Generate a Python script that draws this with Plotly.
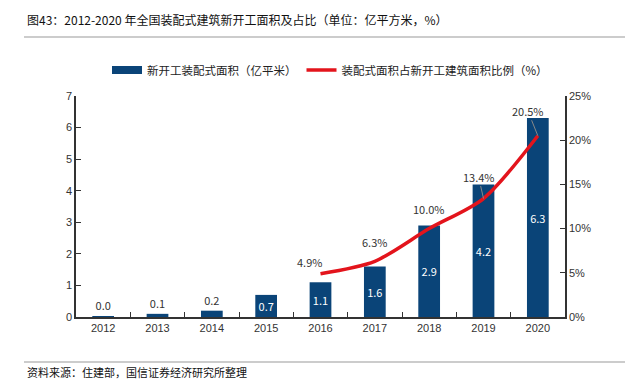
import plotly.graph_objects as go

years = ["2012", "2013", "2014", "2015", "2016", "2017", "2018", "2019", "2020"]
area = [0.02, 0.1, 0.2, 0.7, 1.1, 1.6, 2.9, 4.2, 6.3]
area_labels = ["0.0", "0.1", "0.2", "0.7", "1.1", "1.6", "2.9", "4.2", "6.3"]
ratio_years = ["2016", "2017", "2018", "2019", "2020"]
ratio = [4.9, 6.3, 10.0, 13.4, 20.5]
ratio_labels = ["4.9%", "6.3%", "10.0%", "13.4%", "20.5%"]
left_ticks = [0, 1, 2, 3, 4, 5, 6, 7]
right_ticks = [0, 5, 10, 15, 20, 25]
right_tick_labels = ["0%", "5%", "10%", "15%", "20%", "25%"]

FONT = "Noto Sans CJK SC"
BLUE = "#0A4478"
RED = "#E3141C"

fig = go.Figure()
fig.add_trace(go.Bar(
    x=years, y=area, name="新开工装配式面积（亿平米）", showlegend=False,
    marker=dict(color=BLUE, line=dict(width=0)),
    text=area_labels,
    textposition=["outside"] * 3 + ["inside"] * 6,
    insidetextanchor="middle",
    textfont=dict(family=FONT, size=11, color=["#333333"] * 3 + ["white"] * 6),
    outsidetextfont=dict(family=FONT, size=11, color="#333333"),
    cliponaxis=False,
))
# legend entry with a wide rectangle swatch like the reference
fig.add_trace(go.Scatter(
    x=[None], y=[None], name="新开工装配式面积（亿平米）", mode="lines",
    line=dict(color=BLUE, width=8),
))
fig.add_trace(go.Scatter(
    x=ratio_years, y=ratio, name="装配式面积占新开工建筑面积比例（%）",
    yaxis="y2", mode="lines",
    line=dict(color=RED, width=3.5, shape="spline", smoothing=0.8),
))

offsets = [(-11, -12), (0, -19), (0, -20), (-5, -22), (-10, -25)]
for i, (yr, v, lab) in enumerate(zip(ratio_years, ratio, ratio_labels)):
    dx, dy = offsets[i]
    xi = years.index(yr)
    if i >= 3:
        fig.add_annotation(x=xi, y=v, xref="x", yref="y2", text=lab, showarrow=True,
                           ax=dx, ay=dy, arrowhead=0, arrowwidth=1, arrowcolor="#888888",
                           standoff=0, font=dict(family=FONT, size=11, color="#333333"))
    else:
        fig.add_annotation(x=xi, y=v, xref="x", yref="y2", text=lab, showarrow=False,
                           xshift=dx, yshift=-dy,
                           font=dict(family=FONT, size=11, color="#333333"))

W, H = 630, 380
L, R, T, B = 76, 65, 96, 63
pw, ph = W - L - R, H - T - B

def px(x):
    return (x - L) / pw

def py(y):
    return (H - B - y) / ph

fig.add_annotation(xref="paper", yref="paper", x=px(25), y=py(20), xanchor="left", yanchor="middle",
                   text="图43：2012-2020 年全国装配式建筑新开工面积及占比（单位：亿平方米，%）",
                   showarrow=False, font=dict(family=FONT, size=12, color="#111111"))
fig.add_annotation(xref="paper", yref="paper", x=px(25), y=py(372), xanchor="left", yanchor="middle",
                   text="资料来源：住建部，国信证券经济研究所整理",
                   showarrow=False, font=dict(family=FONT, size=11, color="#111111"))
fig.add_shape(type="line", xref="paper", yref="paper", x0=px(24), x1=px(625), y0=py(37), y1=py(37),
              line=dict(color="#999999", width=1))
fig.add_shape(type="line", xref="paper", yref="paper", x0=px(24), x1=px(625), y0=py(362), y1=py(362),
              line=dict(color="#999999", width=1))

fig.update_layout(
    width=W, height=H,
    margin=dict(l=L, r=R, t=T, b=B),
    paper_bgcolor="white", plot_bgcolor="white",
    bargap=0.6,
    showlegend=True,
    legend=dict(orientation="h", x=px(330), xanchor="center", y=py(70), yanchor="middle",
                font=dict(family=FONT, size=11.5, color="#222222"), itemwidth=30,
                bgcolor="rgba(0,0,0,0)"),
    font=dict(family=FONT),
    xaxis=dict(type="category", range=[-0.5, 8.5], showline=True, linecolor="#333333", linewidth=1.5,
               ticks="inside", tickson="boundaries", ticklen=5, tickcolor="#333333",
               tickfont=dict(family="Liberation Sans", size=11, color="#333333"),
               showgrid=False, zeroline=False),
    yaxis=dict(range=[0, 7], tickvals=left_ticks, showline=True, linecolor="#333333", linewidth=1.5,
               ticks="inside", ticklen=5, tickcolor="#333333",
               tickfont=dict(family="Liberation Sans", size=11, color="#333333"),
               showgrid=False, zeroline=False),
    yaxis2=dict(range=[0, 25], tickvals=right_ticks, ticktext=right_tick_labels, overlaying="y",
                side="right", showline=True, linecolor="#333333", linewidth=1.5,
                ticks="inside", ticklen=5, tickcolor="#333333",
                tickfont=dict(family="Liberation Sans", size=11, color="#333333"),
                showgrid=False, zeroline=False),
)

fig.write_html("out.html", config={"displayModeBar": False},
               post_script="document.body.style.margin='0';document.body.style.overflow='hidden';")
